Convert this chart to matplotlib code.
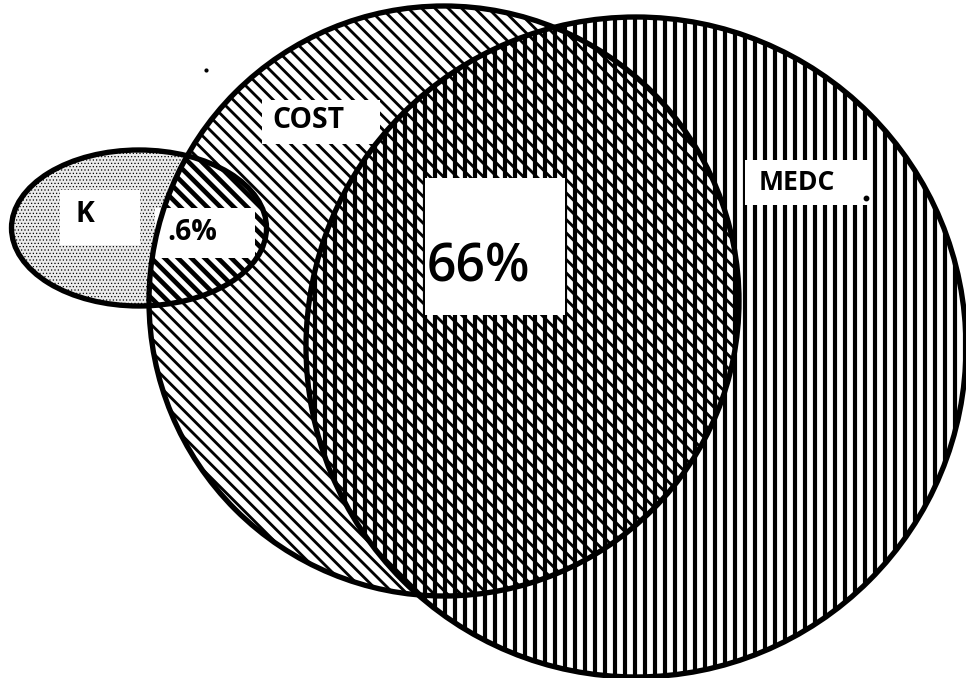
import matplotlib
matplotlib.use("Agg")
import matplotlib.pyplot as plt
from matplotlib.patches import Ellipse, Circle, Rectangle

# ---- data ----
set_names = ["K", "COST", "MEDC"]
overlap_labels = [".6%", "66%"]          # K∩COST, COST∩MEDC

# ---- layout (pixel space) ----
W, H, DPI = 966, 678, 120
K_geom = dict(xy=(139, 228), width=255, height=156)
COST_geom = dict(xy=(444, 301), radius=295)
MEDC_geom = dict(xy=(636, 347), radius=330)

fig = plt.figure(figsize=(W / DPI, H / DPI), dpi=DPI)
ax = fig.add_axes([0, 0, 1, 1])
ax.set_xlim(0, W)
ax.set_ylim(H, 0)
ax.axis("off")


def make(cls, geom, face, hatch, hlw):
    with plt.rc_context({"hatch.linewidth": hlw}):
        p = cls(**geom, facecolor=face, edgecolor="black", linewidth=0, hatch=hatch)
        if hasattr(p, "set_hatch_linewidth"):
            p.set_hatch_linewidth(hlw)
    return p


k_fill = make(Ellipse, K_geom, "#ebebeb", "......", 0.4)
ax.add_patch(k_fill)

cost_fill = make(Circle, COST_geom, "white", "\\\\\\", 1.7)
ax.add_patch(cost_fill)

# K ∩ COST: darker diagonal hatch
kc_fill = make(Circle, COST_geom, "none", "\\\\\\", 2.8)
ax.add_patch(kc_fill)
k_clip = Ellipse(**K_geom, facecolor="none", edgecolor="none")
ax.add_patch(k_clip)
kc_fill.set_clip_path(k_clip)

medc_fill = make(Circle, MEDC_geom, "none", "||", 2.5)
ax.add_patch(medc_fill)

# white label boxes
boxes = [
    (60, 190, 80, 55),     # K
    (155, 208, 100, 50),   # .6%
    (262, 100, 118, 44),   # COST
    (425, 178, 140, 137),  # 66%
    (745, 160, 125, 45),   # MEDC
]
for (x, y, w, h) in boxes:
    ax.add_patch(Rectangle((x, y), w, h, facecolor="white", edgecolor="none"))

# outlines
ax.add_patch(Ellipse(**K_geom, facecolor="none", edgecolor="black", linewidth=3.2))
ax.add_patch(Circle(**COST_geom, facecolor="none", edgecolor="black", linewidth=3.2))
ax.add_patch(Circle(**MEDC_geom, facecolor="none", edgecolor="black", linewidth=3.2))

font = ["Open Sans", "DejaVu Sans"]
ax.text(85, 214, set_names[0], fontsize=17, fontweight="bold", family=font, ha="center", va="center")
ax.text(308, 121, set_names[1], fontsize=17, fontweight="bold", family=font, ha="center", va="center")
ax.text(797, 183, set_names[2], fontsize=16, fontweight="bold", family=font, ha="center", va="center")
ax.text(192, 233, overlap_labels[0], fontsize=17, fontweight="bold", family=font, ha="center", va="center")
ax.text(478, 268, overlap_labels[1], fontsize=31, fontweight="semibold", family=font, ha="center", va="center")
ax.plot([866], [198], marker="o", markersize=2.5, color="black")
ax.plot([206], [70], marker="o", markersize=1.5, color="black")

fig.savefig("out.png", dpi=DPI)
